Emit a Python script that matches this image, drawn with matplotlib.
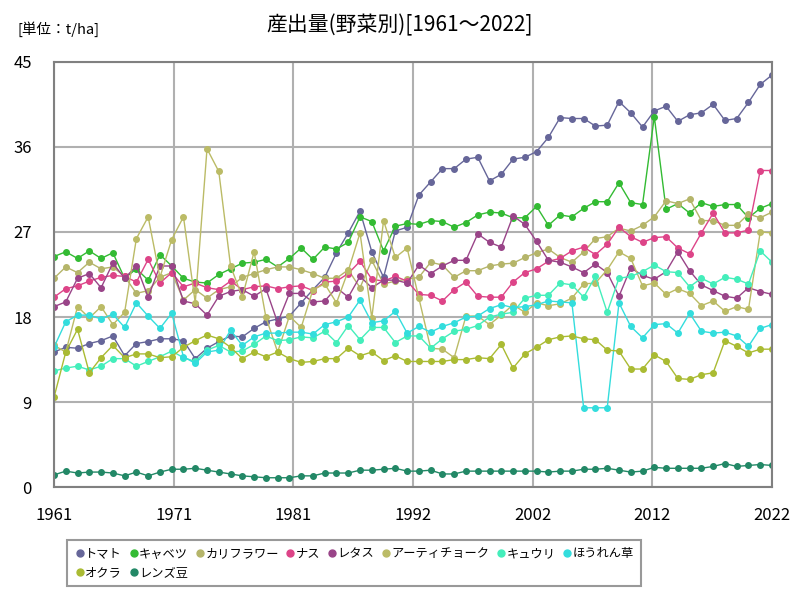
import numpy as np
import matplotlib.pyplot as plt
from matplotlib.lines import Line2D

plt.rcParams['font.family'] = ['Noto Sans CJK JP', 'DejaVu Sans']

years = list(range(1961, 2023))

tomato = [14.3, 14.8, 14.7, 15.2, 15.5, 16.0, 13.9, 15.2, 15.4, 15.7, 15.7,
          15.5, 13.6, 14.7, 15.4, 16.0, 15.9, 16.8, 17.5, 17.8, 18.1,
          19.5, 20.9, 22.2, 24.8, 26.9, 29.2, 24.9, 22.2, 27.1, 27.5,
          30.9, 32.3, 33.7, 33.7, 34.7, 34.9, 32.4, 33.1, 34.7, 34.9,
          35.5, 37.0, 39.1, 39.0, 39.0, 38.2, 38.3, 40.8, 39.6, 38.1,
          39.8, 40.3, 38.7, 39.4, 39.6, 40.5, 38.8, 39.0, 40.7, 42.6, 43.6]
cabbage = [24.4, 24.9, 24.2, 25.0, 24.2, 24.8, 22.1, 23.1, 21.9, 24.6, 23.4,
           22.1, 21.7, 21.6, 22.5, 23.1, 23.7, 23.8, 24.1, 23.3, 24.2,
           25.3, 24.1, 25.4, 25.2, 25.9, 28.6, 28.1, 25.0, 27.6, 27.9,
           27.8, 28.2, 28.1, 27.5, 28.0, 28.8, 29.1, 29.0, 28.5, 28.5,
           29.7, 27.7, 28.8, 28.6, 29.5, 30.2, 30.2, 32.2, 30.1, 29.9,
           39.2, 29.4, 30.0, 29.0, 30.1, 29.7, 29.9, 29.9, 28.5, 29.5, 30.0]
cauliflower = [22.1, 23.3, 22.7, 23.8, 23.1, 23.3, 22.3, 20.5, 20.8, 22.2, 22.7,
               19.8, 20.9, 20.0, 20.9, 21.2, 22.2, 22.6, 23.0, 23.3, 23.3,
               23.0, 22.6, 22.1, 22.1, 23.0, 21.1, 24.0, 21.5, 21.8, 22.0,
               22.2, 23.8, 23.5, 22.2, 22.9, 22.9, 23.4, 23.6, 23.7, 24.3,
               24.8, 25.2, 24.3, 23.8, 24.9, 26.3, 26.5, 27.4, 27.1, 27.7,
               28.6, 30.3, 30.0, 30.5, 28.2, 28.2, 27.7, 27.7, 28.9, 28.5, 29.1]
eggplant = [20.1, 21.0, 21.3, 21.8, 22.2, 22.4, 22.3, 21.7, 24.1, 21.6, 22.7,
            21.2, 21.6, 21.1, 20.9, 21.8, 20.9, 21.2, 21.3, 21.0, 21.2,
            21.3, 20.8, 21.7, 21.8, 22.6, 23.9, 22.0, 21.8, 22.3, 21.8,
            20.4, 20.3, 19.7, 20.9, 21.7, 20.2, 20.1, 20.1, 21.7, 22.7,
            23.1, 23.9, 24.2, 25.0, 25.4, 24.6, 25.7, 27.5, 26.5, 25.9,
            26.4, 26.5, 25.3, 24.7, 26.9, 29.0, 26.9, 26.9, 27.2, 33.5, 33.5]
lettuce = [19.1, 19.6, 22.1, 22.6, 21.1, 23.7, 22.1, 23.4, 20.1, 23.4, 23.4,
           19.7, 19.4, 18.2, 20.2, 20.7, 20.9, 20.2, 21.0, 17.4, 20.5,
           20.5, 19.6, 19.7, 21.1, 20.1, 22.3, 21.1, 21.9, 21.9, 21.6,
           23.5, 22.6, 23.4, 24.0, 24.0, 26.8, 25.9, 25.4, 28.7, 27.8,
           26.0, 24.0, 23.8, 23.3, 22.7, 23.6, 22.7, 20.2, 23.2, 22.4,
           22.0, 22.8, 24.9, 22.9, 21.4, 20.8, 20.2, 20.0, 21.1, 20.7, 20.4]
artichoke = [15.0, 14.3, 19.1, 17.9, 19.1, 17.2, 18.5, 26.3, 28.6, 22.2, 26.2,
             28.6, 19.5, 35.8, 33.4, 23.4, 20.1, 24.9, 18.0, 14.3, 18.1,
             16.9, 20.9, 21.5, 19.5, 22.9, 26.9, 17.9, 28.2, 24.3, 25.3,
             20.0, 14.7, 14.6, 13.7, 18.1, 18.1, 17.2, 18.2, 19.3, 18.5,
             19.5, 19.2, 19.4, 20.0, 21.5, 21.6, 23.0, 24.9, 24.2, 21.3,
             21.6, 20.4, 21.0, 20.5, 19.2, 19.7, 18.6, 19.1, 18.8, 27.0, 26.9]
cucumber = [12.3, 12.6, 12.8, 12.4, 12.8, 13.6, 13.6, 12.8, 13.3, 13.8, 14.4,
            13.7, 13.3, 14.5, 15.0, 14.3, 14.4, 15.1, 16.0, 15.5, 15.6,
            15.9, 15.8, 16.5, 15.3, 17.1, 15.6, 16.9, 16.9, 15.3, 16.0,
            16.0, 14.7, 15.7, 16.5, 16.7, 17.1, 18.0, 18.3, 18.5, 20.0,
            20.3, 20.3, 21.6, 21.4, 20.1, 22.3, 18.5, 22.1, 22.3, 22.8,
            23.5, 22.8, 22.7, 21.2, 22.1, 21.5, 22.2, 22.0, 21.5, 25.0, 23.8]
spinach = [14.8, 17.5, 18.2, 18.2, 17.8, 18.3, 16.9, 19.5, 18.1, 16.8, 18.4,
           13.8, 13.1, 14.3, 14.5, 16.6, 15.0, 15.9, 16.3, 16.3, 16.4,
           16.4, 16.2, 17.2, 17.5, 18.0, 19.8, 17.4, 17.6, 18.6, 16.3,
           17.0, 16.4, 17.0, 17.4, 18.0, 18.1, 18.9, 19.3, 19.0, 19.1,
           19.3, 19.7, 19.6, 19.5, 8.4, 8.4, 8.4, 19.5, 17.0, 15.8,
           17.2, 17.3, 16.3, 18.4, 16.5, 16.3, 16.4, 16.0, 14.9, 16.8, 17.2]
okra = [9.5, 14.3, 16.7, 12.1, 13.7, 15.0, 13.7, 14.1, 14.1, 13.7, 13.8,
        14.8, 15.5, 16.1, 15.7, 14.8, 13.6, 14.3, 13.8, 14.3, 13.6,
        13.2, 13.3, 13.6, 13.6, 14.7, 13.9, 14.3, 13.4, 13.9, 13.3,
        13.3, 13.3, 13.3, 13.5, 13.5, 13.7, 13.6, 15.1, 12.6, 14.1,
        14.8, 15.6, 15.9, 16.0, 15.7, 15.6, 14.5, 14.4, 12.5, 12.5,
        14.0, 13.3, 11.5, 11.4, 11.9, 12.1, 15.5, 14.9, 14.2, 14.6, 14.6]
lentils = [1.3, 1.7, 1.5, 1.6, 1.6, 1.5, 1.2, 1.6, 1.2, 1.6, 1.9,
           1.9, 2.0, 1.8, 1.6, 1.4, 1.2, 1.1, 1.0, 1.0, 1.0,
           1.2, 1.2, 1.5, 1.5, 1.5, 1.8, 1.8, 1.9, 2.0, 1.7,
           1.7, 1.8, 1.4, 1.4, 1.7, 1.7, 1.7, 1.7, 1.7, 1.7,
           1.7, 1.6, 1.7, 1.7, 1.9, 1.9, 2.0, 1.8, 1.6, 1.7,
           2.1, 2.0, 2.0, 2.0, 2.0, 2.2, 2.5, 2.2, 2.3, 2.4, 2.3]

names = ['トマト', 'キャベツ', 'カリフラワー', 'ナス', 'レタス',
         'アーティチョーク', 'キュウリ', 'ほうれん草', 'オクラ', 'レンズ豆']
series = [tomato, cabbage, cauliflower, eggplant, lettuce,
          artichoke, cucumber, spinach, okra, lentils]
colors = ['#666699', '#33bb33', '#b5b56a', '#dd4488', '#994488',
          '#bbbb66', '#44eebb', '#33dddd', '#aabb33', '#228866']

fig = plt.figure(figsize=(8, 6), dpi=100)
ax = fig.add_axes([0.0675, 0.188, 0.8975, 0.709])

for name, vals, c in zip(names, series, colors):
    ax.plot(years, vals, color=c, lw=1, marker='o', ms=4, label=name)

ticks = np.linspace(1961, 2022, 7)
ax.set_xticks(ticks)
ax.set_xticklabels([str(int(round(t + 0.01))) for t in ticks])
ax.set_xlim(1961, 2022)
ax.set_ylim(0, 45)
ax.set_yticks(range(0, 46, 9))
ax.grid(True, color='#b0b0b0', lw=1.5)
ax.set_axisbelow(True)
for s in ax.spines.values():
    s.set_color('#808080')
    s.set_linewidth(1.5)
ax.tick_params(axis='x', length=0, labelsize=12, pad=14)
ax.tick_params(axis='y', length=0, labelsize=12, pad=16)

fig.text(0.5, 0.958, '産出量(野菜別)[1961～2022]', ha='center', va='center', fontsize=15)
fig.text(0.022, 0.952, '[単位：t/ha]', ha='left', va='center', fontsize=10.5)

# legend filled row by row: matplotlib fills columns, so reorder
order = [0, 8, 1, 9, 2, 3, 4, 5, 6, 7]
handles = [Line2D([], [], ls='', marker='o', ms=5, color=colors[i]) for i in order]
labels = [names[i] for i in order]
leg = fig.legend(handles, labels, loc='upper left', bbox_to_anchor=(0.076, 0.11),
                 ncol=8, fontsize=8.8, handletextpad=0.0, columnspacing=0.5,
                 handlelength=0.9, borderpad=0.6, labelspacing=0.45,
                 fancybox=False, edgecolor='#808080')
leg.get_frame().set_linewidth(1.5)

fig.savefig('out.png')
